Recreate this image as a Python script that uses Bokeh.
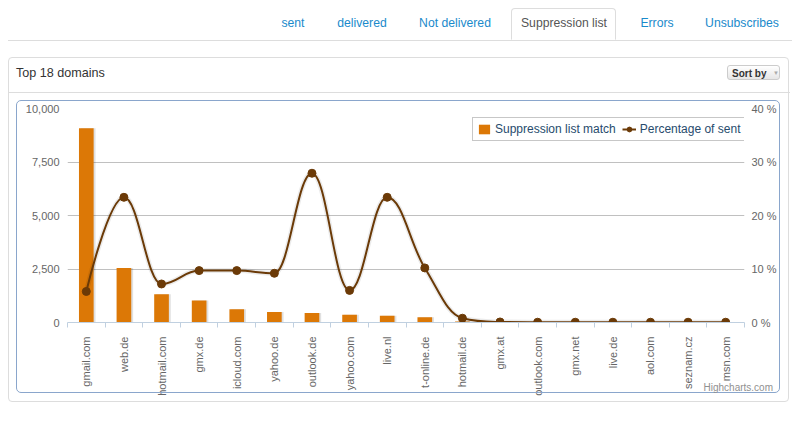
import math
from bokeh.plotting import figure
from bokeh.layouts import column
from bokeh.models import (ColumnDataSource, Range1d, LinearAxis, FixedTicker, NumeralTickFormatter,
                          Legend, LegendItem, Div)
from bokeh.transform import dodge
from bokeh.embed import file_html
from bokeh.resources import INLINE

# ---- data ----
domains = ["gmail.com", "web.de", "hotmail.com", "gmx.de", "icloud.com", "yahoo.de", "outlook.de",
           "yahoo.com", "live.nl", "t-online.de", "hotmail.de", "gmx.at", "outlook.com", "gmx.net",
           "live.de", "aol.com", "seznam.cz", "msn.com"]
suppression = [9080, 2550, 1320, 1030, 620, 490, 440, 360, 310, 240, 45, 5, 4, 3, 3, 2, 2, 2]
percentage = [5.8, 23.4, 7.2, 9.7, 9.7, 9.2, 27.9, 6.0, 23.4, 10.2, 0.8, 0.1, 0.05, 0.05, 0.05, 0.05, 0.05, 0.05]
left_ticks = [0, 2500, 5000, 7500, 10000]
right_ticks = [0, 10, 20, 30, 40]
right_labels = ["0 %", "10 %", "20 %", "30 %", "40 %"]
tabs = ["sent", "delivered", "Not delivered", "Suppression list", "Errors", "Unsubscribes"]
active_tab = "Suppression list"
panel_title = "Top 18 domains"

BAR = "#DC7806"
LINE = "#6B3A07"
LABEL = "#666666"
FONT = "Liberation Sans"

W, H = 804, 422
FL, FR, FT, FB = 67, 744, 108, 322

p = figure(width=W, height=H, output_backend="svg", toolbar_location=None,
           x_range=Range1d(0, len(domains)), y_range=Range1d(0, 10000),
           min_border_left=FL, min_border_right=W - FR, min_border_top=FT, min_border_bottom=H - FB)
p.outline_line_color = None
p.background_fill_color = "white"
p.border_fill_color = "white"
p.extra_y_ranges = {"pct": Range1d(0, 40)}

xs = [i + 0.5 for i in range(len(domains))]
src = ColumnDataSource(dict(x=xs, bar=suppression, pct=percentage))

# grid & axes
p.xgrid.visible = False
p.ygrid.ticker = FixedTicker(ticks=left_ticks)
p.ygrid.grid_line_color = "#C0C0C0"

xa = p.xaxis[0]
xa.ticker = FixedTicker(ticks=xs, minor_ticks=list(range(len(domains) + 1)))
xa.major_label_overrides = {x: d for x, d in zip(xs, domains)}
xa.major_label_orientation = math.pi / 2
xa.major_tick_out = 0
xa.major_tick_in = 0
xa.minor_tick_out = 5
xa.minor_tick_in = 0
xa.minor_tick_line_color = "#C0D0E0"
xa.axis_line_color = "#C0D0E0"
xa.major_label_standoff = 9
xa.major_label_text_font = FONT
xa.major_label_text_font_size = "11px"
xa.major_label_text_color = LABEL

ya = p.yaxis[0]
ya.ticker = FixedTicker(ticks=left_ticks)
ya.formatter = NumeralTickFormatter(format="0,0")
ya.axis_line_color = None
ya.major_tick_line_color = None
ya.minor_tick_line_color = None
ya.major_tick_out = 0
ya.major_label_standoff = 8
ya.major_label_text_font = FONT
ya.major_label_text_font_size = "11px"
ya.major_label_text_color = LABEL

ra = LinearAxis(y_range_name="pct", ticker=FixedTicker(ticks=right_ticks),
                major_label_overrides={t: l for t, l in zip(right_ticks, right_labels)})
ra.axis_line_color = None
ra.major_tick_line_color = None
ra.minor_tick_line_color = None
ra.major_tick_out = 0
ra.major_label_standoff = 7
ra.major_label_text_font = FONT
ra.major_label_text_font_size = "11px"
ra.major_label_text_color = LABEL
p.add_layout(ra, "right")

# bars with shadow
p.vbar(x=dodge("x", 0.05, range=p.x_range), top="bar", width=0.39, source=src,
       fill_color="black", fill_alpha=0.12, line_color=None)
bars = p.vbar(x="x", top="bar", width=0.39, source=src, fill_color=BAR, line_color=None)

# spline (Highcharts style control points)
def spline(xv, yv, smoothing=1.5):
    n = len(xv)
    den = smoothing + 1
    lcx, lcy, rcx, rcy = list(xv), list(yv), list(xv), list(yv)
    for i in range(1, n - 1):
        px, py = xv[i], yv[i]
        lx, ly = xv[i - 1], yv[i - 1]
        nx, ny = xv[i + 1], yv[i + 1]
        lX = (smoothing * px + lx) / den
        lY = (smoothing * py + ly) / den
        rX = (smoothing * px + nx) / den
        rY = (smoothing * py + ny) / den
        if rX != lX:
            corr = ((rY - lY) * (rX - px)) / (rX - lX) + py - rY
            lY += corr
            rY += corr
        if lY > ly and lY > py:
            lY = max(ly, py); rY = 2 * py - lY
        elif lY < ly and lY < py:
            lY = min(ly, py); rY = 2 * py - lY
        if rY > ny and rY > py:
            rY = max(ny, py); lY = 2 * py - rY
        elif rY < ny and rY < py:
            rY = min(ny, py); lY = 2 * py - rY
        lcx[i], lcy[i], rcx[i], rcy[i] = lX, lY, rX, rY
    return dict(x0=xv[:-1], y0=yv[:-1], x1=xv[1:], y1=yv[1:],
                cx0=rcx[:-1], cy0=rcy[:-1], cx1=lcx[1:], cy1=lcy[1:])

bsrc = ColumnDataSource(spline(xs, percentage))
p.bezier(x0="x0", y0="y0", x1="x1", y1="y1", cx0="cx0", cy0="cy0", cx1="cx1", cy1="cy1",
         source=bsrc, y_range_name="pct", line_color="black", line_alpha=0.08, line_width=5)
curve = p.bezier(x0="x0", y0="y0", x1="x1", y1="y1", cx0="cx0", cy0="cy0", cx1="cx1", cy1="cy1",
                 source=bsrc, y_range_name="pct", line_color=LINE, line_width=2)
pts = p.scatter(x="x", y="pct", source=src, y_range_name="pct", size=8,
                fill_color=LINE, line_color=LINE)

legend = Legend(items=[LegendItem(label="Suppression list match", renderers=[bars]),
                       LegendItem(label="Percentage of sent", renderers=[curve, pts])],
                orientation="horizontal", location=(472 - FL, FB - 141),
                label_text_font=FONT, label_text_font_size="12px", label_text_color="#274b6d",
                glyph_width=14, glyph_height=12, label_standoff=4, spacing=6, padding=4,
                margin=0, border_line_color="#909090", border_line_width=1,
                background_fill_color="white", background_fill_alpha=1.0)
p.add_layout(legend, "center")

# ---- page decorations (HTML overlay) ----
def pos(l, t, w, h, extra=""):
    return f"position:absolute;left:{l}px;top:{t}px;width:{w}px;height:{h}px;{extra}"

parts = []
parts.append(f'<div style="{pos(8, 40, 784, 1, "background:#dddddd;")}"></div>')
parts.append(f'<div style="{pos(511, 8, 105, 32, "border:1px solid #dddddd;border-bottom:1px solid #ffffff;border-radius:4px 4px 0 0;background:#ffffff;")}"></div>')
tab_x = [293, 362, 455, 564, 657, 742]
for tx, t in zip(tab_x, tabs):
    col = "#555555" if t == active_tab else "#1a8acb"
    parts.append(f'<div style="{pos(tx - 60, 15, 120, 16, f"text-align:center;font-size:12.2px;line-height:16px;color:{col};")}">{t}</div>')
parts.append(f'<div style="{pos(8, 57, 781, 345, "border:1px solid #dddddd;border-radius:4px;")}"></div>')
parts.append(f'<div style="{pos(9, 92, 781, 1, "background:#dddddd;")}"></div>')
parts.append(f'<div style="{pos(16, 64, 300, 18, "font-size:12.6px;line-height:18px;color:#333333;")}">{panel_title}</div>')
parts.append(f'<div style="{pos(727, 65, 53, 15, "border:1px solid #cccccc;border-radius:3px;background:linear-gradient(#ffffff,#e6e6e6);")}"></div>')
parts.append(f'<div style="{pos(732, 66, 40, 15, "font-size:10px;line-height:15px;font-weight:bold;color:#333333;")}">Sort by</div>')
parts.append(f'<div style="{pos(773, 66, 8, 15, "font-size:6px;line-height:15px;color:#aaaaaa;")}">&#9660;</div>')
parts.append(f'<div style="{pos(16, 100, 764, 293, "border:1px solid #8aa6cc;border-radius:5px;")}"></div>')
parts.append(f'<div style="{pos(653, 381, 120, 14, "text-align:right;font-size:10px;line-height:14px;color:#909090;")}">Highcharts.com</div>')

html = (f'<div style="position:relative;width:{W}px;height:{H}px;'
        f'font-family:\'{FONT}\',Arial,sans-serif;">' + "".join(parts) + "</div>")
deco = Div(text=html, width=W, height=H, margin=(-H, 0, 0, 0))

layout = column(p, deco, spacing=0)
open("out.html", "w").write(file_html(layout, INLINE))
